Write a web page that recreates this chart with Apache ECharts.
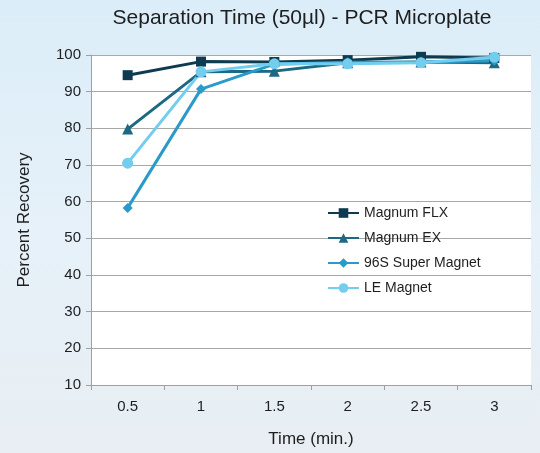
<!DOCTYPE html>
<html><head><meta charset="utf-8">
<script src="https://cdn.jsdelivr.net/npm/echarts@6/dist/echarts.min.js"></script>
<style>html,body{margin:0;padding:0}#c{width:540px;height:453px}</style>
</head><body><div id="c"></div>
<script>
const categories = ['0.5','1','1.5','2','2.5','3'];
const magnumFLX = [94.5, 98.2, 98.1, 98.6, 99.5, 99.2];
const magnumEX = [79.8, 95.4, 95.6, 97.9, 98.1, 97.9];
const super96S = [58.3, 90.7, 97.5, 98.0, 98.1, 98.4];
const leMagnet = [70.5, 95.4, 97.6, 97.6, 97.9, 99.4];
const yTicks = [10,20,30,40,50,60,70,80,90,100];

const chart = echarts.init(document.getElementById('c'));
const font = 'Liberation Sans, Arial, sans-serif';
function s(name, data, color, symbol, size){
  return {name, type:'line', data, color, symbol, symbolSize:size,
    lineStyle:{width:3,color}, itemStyle:{color}, z: 2};
}
chart.setOption({
  animation:false,
  backgroundColor:{type:'linear',x:0,y:0,x2:0,y2:1,colorStops:[{offset:0,color:'#dbedf8'},{offset:0.5,color:'#e6f1f9'},{offset:1,color:'#e8eef3'}]},
  textStyle:{fontFamily:font},
  title:{text:'Separation Time (50µl) - PCR Microplate', left:302, textAlign:'center', top:8, padding:0,
    textStyle:{fontSize:21, fontWeight:'normal', color:'#1e1e1e', fontFamily:font}},
  grid:{left:91, right:9, top:55, bottom:68, show:true, backgroundColor:'#ffffff', borderWidth:0},
  legend:{orient:'vertical', left:327, top:206, padding:0, itemWidth:31, itemHeight:12, itemGap:11,
    textStyle:{fontSize:14, color:'#1e1e1e', fontFamily:font},
    data:['Magnum FLX','Magnum EX','96S Super Magnet','LE Magnet']},
  xAxis:{type:'category', data:categories, boundaryGap:true,
    name:'Time (min.)', nameLocation:'middle', nameGap:46,
    nameTextStyle:{fontSize:17, color:'#1e1e1e'},
    axisLine:{lineStyle:{color:'#a0a0a0'}},
    axisTick:{show:true, length:5, lineStyle:{color:'#a0a0a0'}},
    axisLabel:{fontSize:15, color:'#1e1e1e', margin:14}},
  yAxis:{type:'value', min:10, max:100, interval:10,
    name:'Percent Recovery', nameLocation:'middle', nameGap:58,
    nameTextStyle:{fontSize:17, color:'#1e1e1e'},
    axisLine:{show:true, lineStyle:{color:'#a0a0a0'}},
    axisTick:{show:true, length:5, lineStyle:{color:'#a0a0a0'}},
    axisLabel:{fontSize:15, color:'#1e1e1e', margin:10,
      formatter:v=> yTicks.includes(v) ? String(v) : ''},
    splitLine:{lineStyle:{color:'#a8a8a8', width:1}}},
  series:[
    s('Magnum FLX', magnumFLX, '#0f3b50', 'rect', 10),
    s('Magnum EX', magnumEX, '#1d6883', 'triangle', 11),
    s('96S Super Magnet', super96S, '#2a9ac8', 'diamond', 10),
    s('LE Magnet', leMagnet, '#72cdef', 'circle', 11)
  ]
});
</script></body></html>
